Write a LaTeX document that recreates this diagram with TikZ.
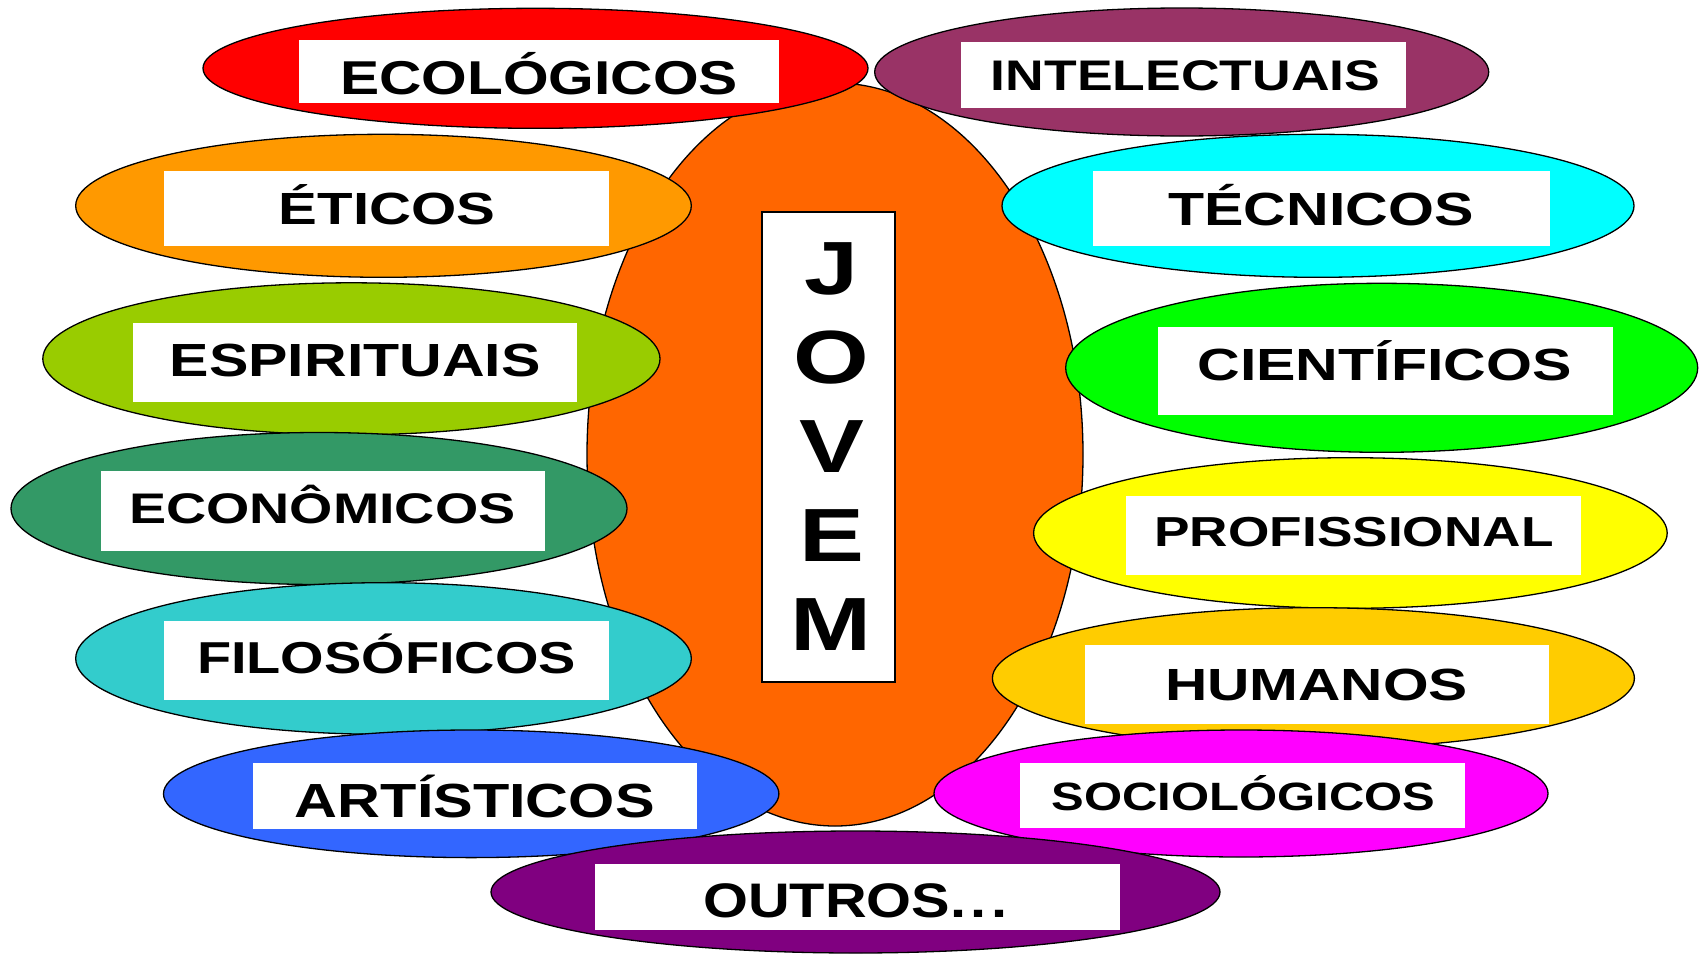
\documentclass[tikz,border=0pt]{standalone}
\usepackage{fontspec}
\setmainfont{Liberation Sans}
\usepackage{graphicx}
\usetikzlibrary{shapes.geometric}
\definecolor{cCenter}{HTML}{FF6600}
\definecolor{cEco}{HTML}{FF0000}
\definecolor{cInt}{HTML}{993366}
\definecolor{cEti}{HTML}{FF9900}
\definecolor{cTec}{HTML}{00FFFF}
\definecolor{cEsp}{HTML}{99CC00}
\definecolor{cCie}{HTML}{00FF00}
\definecolor{cEcon}{HTML}{339966}
\definecolor{cProf}{HTML}{FFFF00}
\definecolor{cFil}{HTML}{33CCCC}
\definecolor{cHum}{HTML}{FFCC00}
\definecolor{cArt}{HTML}{3366FF}
\definecolor{cSoc}{HTML}{FF00FF}
\definecolor{cOut}{HTML}{800080}
\newcommand\ltx[3]{\scalebox{#2}[1]{\fontsize{#1pt}{#1pt}\selectfont\bfseries #3}}
\tikzset{
  blob/.style={ellipse, draw=black, line width=1.3pt, inner sep=0pt},
  lblbox/.style={fill=white, inner sep=0pt},
  lbl/.style={inner sep=0pt, anchor=base, text=black},
}
\begin{document}
\begin{tikzpicture}[x=1pt,y=-1pt]
\fill[white] (0,0) rectangle (1706,956);
\useasboundingbox (0,0) rectangle (1706,956);

% central ellipse
\node[blob, fill=cCenter, minimum width=496pt, minimum height=743pt] (e-center) at (835,454.5) {};
\node[lblbox, draw=black, line width=1.8pt, minimum width=133pt, minimum height=470.6pt] (b-jovem) at (828.5,447) {};
\node[lbl] (j1) at (831.5,294) {\ltx{75.4}{1.29}{J}};
\node[lbl] (j2) at (831.5,383) {\ltx{75.4}{1.29}{O}};
\node[lbl] (j3) at (831.5,472) {\ltx{75.4}{1.29}{V}};
\node[lbl] (j4) at (831.5,561) {\ltx{75.4}{1.29}{E}};
\node[lbl] (j5) at (831.5,650) {\ltx{75.4}{1.29}{M}};

% left column
\node[blob, fill=cEco, minimum width=665pt, minimum height=120pt] (e-eco) at (535.5,68.3) {};
\node[lblbox, minimum width=480pt, minimum height=62.7pt] (b-eco) at (539,71.35) {};
\node[lbl] (t-eco) at (539,94) {\ltx{47.5}{1.235}{ECOLÓGICOS}};

\node[blob, fill=cEti, minimum width=615.6pt, minimum height=143pt] (e-eti) at (383.5,205.8) {};
\node[lblbox, minimum width=445pt, minimum height=74.7pt] (b-eti) at (386.5,208.35) {};
\node[lbl] (t-eti) at (387,224) {\ltx{45.1}{1.29}{ÉTICOS}};

\node[blob, fill=cEsp, minimum width=617.2pt, minimum height=152pt] (e-esp) at (351.4,358.8) {};
\node[lblbox, minimum width=444.3pt, minimum height=79pt] (b-esp) at (354.85,362.2) {};
\node[lbl] (t-esp) at (355.2,376.7) {\ltx{46.5}{1.27}{ESPIRITUAIS}};

\node[blob, fill=cEcon, minimum width=616pt, minimum height=152pt] (e-econ) at (319,508.5) {};
\node[lblbox, minimum width=444.3pt, minimum height=80pt] (b-econ) at (323.15,511) {};
\node[lbl] (t-econ) at (322.3,523.3) {\ltx{42.8}{1.30}{ECONÔMICOS}};

\node[blob, fill=cFil, minimum width=615.6pt, minimum height=151.6pt] (e-fil) at (383.5,658.5) {};
\node[lblbox, minimum width=445pt, minimum height=79pt] (b-fil) at (386.5,660.5) {};
\node[lbl] (t-fil) at (386.5,673.7) {\ltx{44.7}{1.25}{FILOSÓFICOS}};

\node[blob, fill=cArt, minimum width=615.4pt, minimum height=127.6pt] (e-art) at (471.2,793.8) {};
\node[lblbox, minimum width=443.7pt, minimum height=66pt] (b-art) at (474.75,795.7) {};
\node[lbl] (t-art) at (474.8,817) {\ltx{47.9}{1.24}{ARTÍSTICOS}};

% right column
\node[blob, fill=cInt, minimum width=614pt, minimum height=128pt] (e-int) at (1181.7,72) {};
\node[lblbox, minimum width=444.5pt, minimum height=65.4pt] (b-int) at (1183.25,75) {};
\node[lbl] (t-int) at (1185.5,90.7) {\ltx{42.8}{1.25}{INTELECTUAIS}};

\node[blob, fill=cTec, minimum width=632pt, minimum height=143pt] (e-tec) at (1318,205.8) {};
\node[lblbox, minimum width=457.5pt, minimum height=74.7pt] (b-tec) at (1321.55,208.35) {};
\node[lbl] (t-tec) at (1321,225) {\ltx{46.5}{1.27}{TÉCNICOS}};

\node[blob, fill=cCie, minimum width=632pt, minimum height=169pt] (e-cie) at (1381.7,367.8) {};
\node[lblbox, minimum width=455pt, minimum height=87.5pt] (b-cie) at (1385,370.75) {};
\node[lbl] (t-cie) at (1384.5,380.7) {\ltx{45.1}{1.31}{CIENTÍFICOS}};

\node[blob, fill=cProf, minimum width=633.6pt, minimum height=150.6pt] (e-prof) at (1350.4,533) {};
\node[lblbox, minimum width=455.2pt, minimum height=79.3pt] (b-prof) at (1353.4,535.65) {};
\node[lbl] (t-prof) at (1354,546.7) {\ltx{41.9}{1.27}{PROFISSIONAL}};

\node[blob, fill=cHum, minimum width=642pt, minimum height=141pt] (e-hum) at (1313.4,678.2) {};
\node[lblbox, minimum width=464pt, minimum height=78.4pt] (b-hum) at (1317.2,684.5) {};
\node[lbl] (t-hum) at (1316.5,700) {\ltx{45.1}{1.30}{HUMANOS}};

\node[blob, fill=cSoc, minimum width=614pt, minimum height=127pt] (e-soc) at (1241,793.5) {};
\node[lblbox, minimum width=444.4pt, minimum height=65pt] (b-soc) at (1242.6,795.8) {};
\node[lbl] (t-soc) at (1243.5,810) {\ltx{39.5}{1.24}{SOCIOLÓGICOS}};

% bottom
\node[blob, fill=cOut, minimum width=729pt, minimum height=122pt] (e-out) at (855.5,892) {};
\node[lblbox, minimum width=525.3pt, minimum height=66pt] (b-out) at (857.65,897.3) {};
\node[lbl] (t-out) at (855.5,917.3) {\ltx{48.5}{1.19}{OUTROS.\kern0.08em.\kern0.08em.}};
\end{tikzpicture}
\end{document}
